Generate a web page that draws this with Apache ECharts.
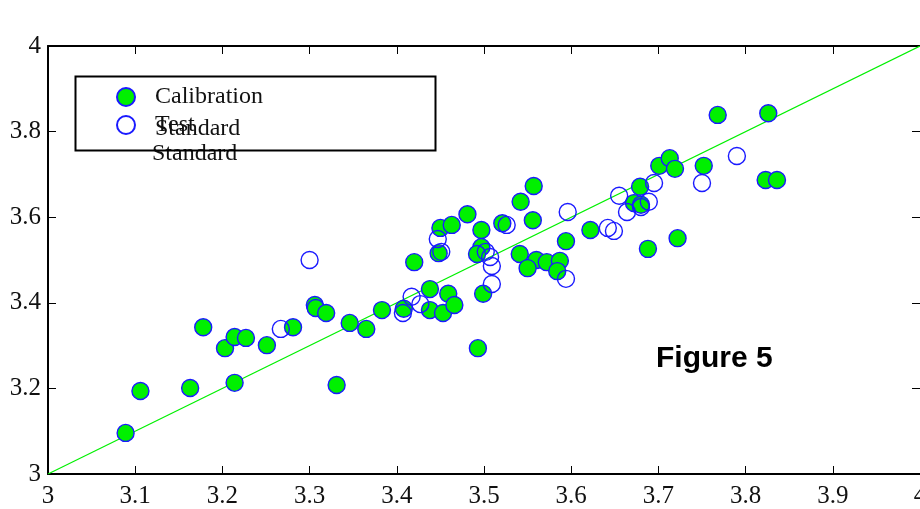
<!DOCTYPE html>
<html>
<head>
<meta charset="utf-8">
<script src="https://cdn.jsdelivr.net/npm/echarts@6/dist/echarts.min.js"></script>
<style>
  html, body { margin: 0; padding: 0; background: #fff; }
  #chart { width: 920px; height: 509px; }
</style>
</head>
<body>
<div id="chart"></div>
<script>
// calibration standards (filled markers), [x, y]
var calibration = [
  [3.089, 3.096], [3.106, 3.194], [3.163, 3.201], [3.178, 3.343], [3.203, 3.294],
  [3.214, 3.320], [3.227, 3.318], [3.214, 3.213], [3.251, 3.301], [3.281, 3.343],
  [3.306, 3.395], [3.307, 3.388], [3.319, 3.376], [3.331, 3.208], [3.346, 3.353],
  [3.365, 3.339], [3.383, 3.383], [3.408, 3.386], [3.438, 3.432], [3.438, 3.383],
  [3.453, 3.376], [3.459, 3.421], [3.466, 3.395], [3.499, 3.421], [3.493, 3.294],
  [3.420, 3.495], [3.448, 3.516], [3.450, 3.575], [3.463, 3.582], [3.481, 3.607],
  [3.497, 3.570], [3.497, 3.530], [3.492, 3.514], [3.521, 3.586], [3.542, 3.636],
  [3.557, 3.673], [3.556, 3.593], [3.541, 3.514], [3.560, 3.500], [3.550, 3.481],
  [3.572, 3.495], [3.587, 3.498], [3.584, 3.474], [3.594, 3.544], [3.622, 3.570],
  [3.679, 3.671], [3.672, 3.633], [3.680, 3.629], [3.701, 3.720], [3.713, 3.738],
  [3.719, 3.713], [3.752, 3.720], [3.768, 3.839], [3.826, 3.843], [3.688, 3.526],
  [3.722, 3.551], [3.823, 3.687], [3.836, 3.687]
];
// test standards (open markers)
var test = [
  [3.267, 3.339], [3.300, 3.500], [3.407, 3.376], [3.417, 3.414], [3.427, 3.397],
  [3.447, 3.549], [3.451, 3.519], [3.502, 3.519], [3.507, 3.507], [3.509, 3.486],
  [3.509, 3.444], [3.526, 3.582], [3.594, 3.456], [3.596, 3.612], [3.642, 3.575],
  [3.649, 3.568], [3.655, 3.650], [3.664, 3.612], [3.689, 3.636], [3.695, 3.680],
  [3.750, 3.680], [3.790, 3.743], [3.680, 3.624]
];
// 1:1 line
var identity = [[3, 3], [4, 4]];

var serif = '"Liberation Serif", "DejaVu Serif", serif';
var green = '#00f000';
var blue = '#1a1aff';

var myChart = echarts.init(document.getElementById('chart'), null, { renderer: 'canvas' });

function axisBase(show) {
  return {
    type: 'value',
    min: 3,
    max: 4,
    axisLine: { show: true, onZero: false, lineStyle: { color: '#000', width: 2 } },
    axisTick: { show: true, inside: true, length: 8, lineStyle: { color: '#000', width: 1 } },
    axisLabel: { show: show, color: '#111', fontFamily: serif, fontSize: 25 },
    splitLine: { show: false }
  };
}

var xBottom = axisBase(true);
xBottom.position = 'bottom';
xBottom.interval = 0.1;
xBottom.axisLabel.margin = 10;
var xTop = axisBase(false);
xTop.position = 'top';
xTop.interval = 0.1;
var yLeft = axisBase(true);
yLeft.position = 'left';
yLeft.interval = 0.2;
yLeft.axisLabel.margin = 7;
var yRight = axisBase(false);
yRight.position = 'right';
yRight.interval = 0.2;
yRight.axisLine.show = false;

var option = {
  animation: false,
  backgroundColor: '#fff',
  grid: { left: 48, right: 0, top: 46, bottom: 35, containLabel: false, outerBoundsMode: 'none' },
  xAxis: [xBottom, xTop],
  yAxis: [yLeft, yRight],
  legend: {
    data: ['Calibration Standard', 'Test Standard'],
    orient: 'vertical',
    left: 116,
    top: 85,
    padding: 0,
    itemGap: 4,
    itemWidth: 48,
    itemHeight: 18,
    icon: 'circle',
    selectedMode: false,
    formatter: function (name) { return name.split(' ')[0]; },
    textStyle: { fontFamily: serif, fontSize: 24, color: '#111', lineHeight: 24 }
  },
  graphic: [
    { type: 'rect', left: 73, top: 74, shape: { width: 360, height: 74 },
      style: { fill: 'none', stroke: '#000', lineWidth: 2 }, z: 1 },
    { type: 'text', x: 155, y: 129, style: { text: 'Standard', font: '24px ' + serif, fill: '#111', verticalAlign: 'middle' } },
    { type: 'text', x: 152, y: 154, style: { text: 'Standard', font: '24px ' + serif, fill: '#111', verticalAlign: 'middle' } },
    { type: 'text', x: 656, y: 359, style: { text: 'Figure 5', font: 'bold 30px "Liberation Sans", Arial, sans-serif', fill: '#000', verticalAlign: 'middle' } }
  ],
  series: [
    {
      name: '1:1',
      type: 'line',
      data: identity,
      showSymbol: false,
      silent: true,
      lineStyle: { color: green, width: 1.2 },
      z: 1
    },
    {
      name: 'Calibration Standard',
      type: 'scatter',
      data: calibration,
      symbol: 'circle',
      symbolSize: 17,
      itemStyle: { color: green, borderColor: blue, borderWidth: 1.4, opacity: 1 },
      z: 2
    },
    {
      name: 'Test Standard',
      type: 'scatter',
      data: test,
      symbol: 'circle',
      symbolSize: 17,
      itemStyle: { color: 'rgba(255,255,255,0)', borderColor: blue, borderWidth: 1.4, opacity: 1 },
      z: 3
    }
  ]
};

myChart.setOption(option, true);
window.onresize = myChart.resize;
</script>
</body>
</html>
